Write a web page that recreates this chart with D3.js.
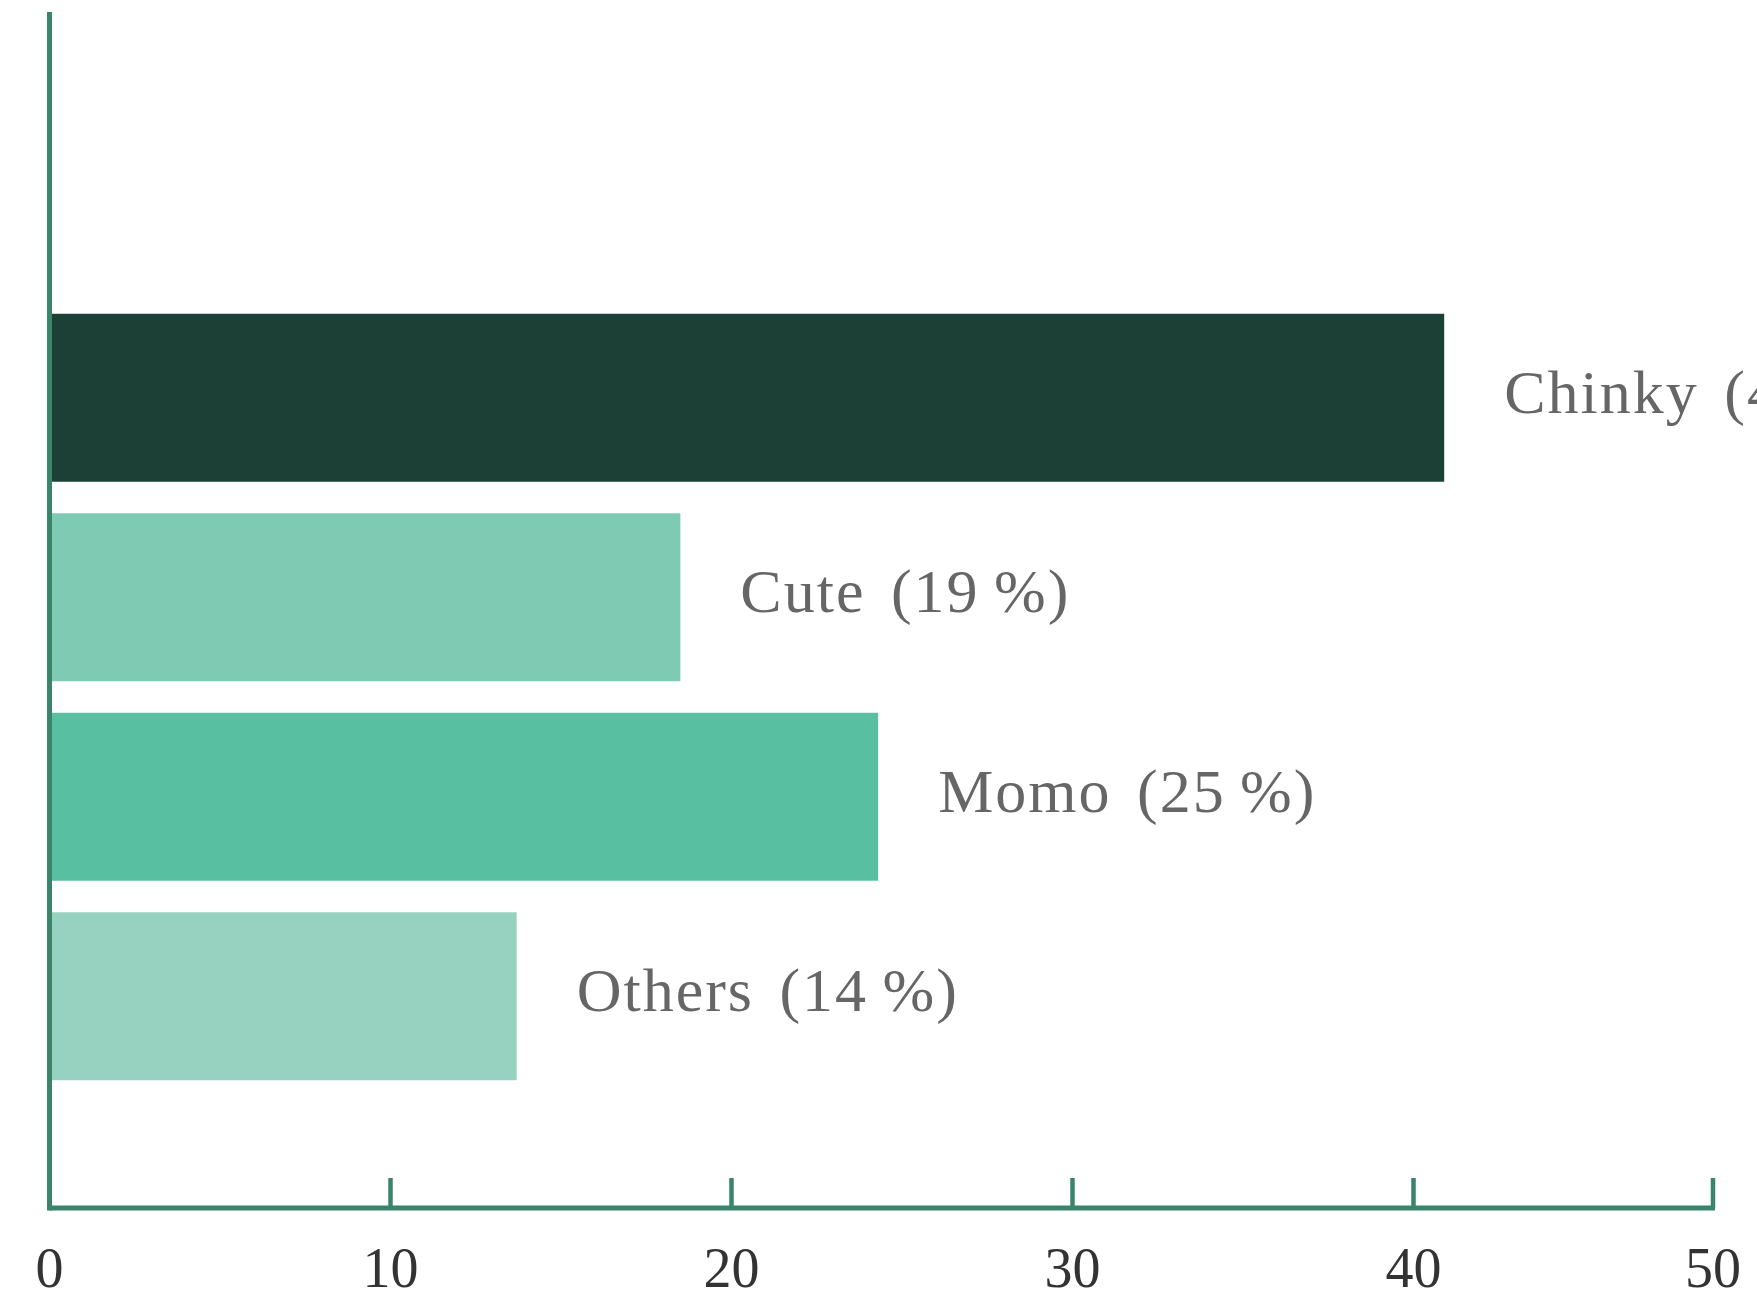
<!DOCTYPE html>
<html>
<head>
<meta charset="utf-8">
<script src="https://cdn.jsdelivr.net/npm/d3@7"></script>
<style>
  html, body { margin: 0; padding: 0; background: #ffffff; }
  svg { display: block; }
</style>
</head>
<body>
<svg id="chart" width="1757" height="1299"></svg>
<script>
// Nickname categories and their tallies
const categories = ["Chinky", "Cute", "Momo", "Others"];
const values = [40.9, 18.5, 24.3, 13.7];
const barColors = ["#1c4036", "#7fcab3", "#58c0a0", "#96d2bf"];
const tickValues = [0, 10, 20, 30, 40, 50];

const width = 1757, height = 1299;
const axisColor = "#3a8469";
const plot = { left: 49.5, right: 1713, top: 12, bottom: 1208 };

const svg = d3.select("#chart");

const x = d3.scaleLinear()
  .domain([0, 50])
  .range([plot.left, plot.left + 34.1 * 50]);

const y = d3.scaleBand()
  .domain(categories)
  .range([298, 1096])
  .paddingInner(0.158)
  .paddingOuter(0.079);

const total = d3.sum(values);
const pct = d3.format(".0%");
const rows = categories.map((c, i) => ({
  name: c,
  value: values[i],
  color: barColors[i],
  label: `${c} (${pct(values[i] / total).replace("%", "\u2009%")})`
}));

// Bars
svg.append("g")
  .selectAll("rect")
  .data(rows)
  .join("rect")
  .attr("x", x(0))
  .attr("y", d => y(d.name))
  .attr("width", d => x(d.value) - x(0))
  .attr("height", y.bandwidth())
  .attr("fill", d => d.color);

// Share labels beside each bar
svg.append("g")
  .selectAll("text")
  .data(rows)
  .join("text")
  .attr("x", d => x(d.value) + 60)
  .attr("y", d => y(d.name) + y.bandwidth() / 2 + 15)
  .attr("font-family", "'Liberation Serif', serif")
  .attr("font-size", 62)
  .attr("letter-spacing", 2)
  .attr("word-spacing", 8)
  .attr("fill", "#666666")
  .text(d => d.label);

// Bottom axis with inward ticks; the last tick is kept inside the plot edge
const xAxis = d3.axisBottom(x)
  .tickValues(tickValues)
  .tickFormat(d3.format("d"))
  .tickSize(0)
  .tickPadding(0);

const gx = svg.append("g")
  .attr("transform", `translate(0,${plot.bottom})`)
  .call(xAxis);

gx.select(".domain").remove();
gx.selectAll(".tick")
  .attr("transform", d => `translate(${Math.min(x(d), plot.right)},0)`);
gx.selectAll(".tick line")
  .attr("y1", 0)
  .attr("y2", d => d === 0 ? 0 : -30)
  .attr("stroke", axisColor)
  .attr("stroke-width", 4.5);
gx.selectAll(".tick text")
  .attr("y", 79)
  .attr("dy", 0)
  .attr("font-family", "'Liberation Serif', serif")
  .attr("font-size", 56)
  .attr("fill", "#333333");

// Axis lines
svg.append("line")
  .attr("x1", plot.left).attr("x2", plot.right + 2)
  .attr("y1", plot.bottom).attr("y2", plot.bottom)
  .attr("stroke", axisColor).attr("stroke-width", 5);

svg.append("line")
  .attr("x1", plot.left).attr("x2", plot.left)
  .attr("y1", plot.top).attr("y2", plot.bottom + 2.5)
  .attr("stroke", axisColor).attr("stroke-width", 5);
</script>
</body>
</html>
